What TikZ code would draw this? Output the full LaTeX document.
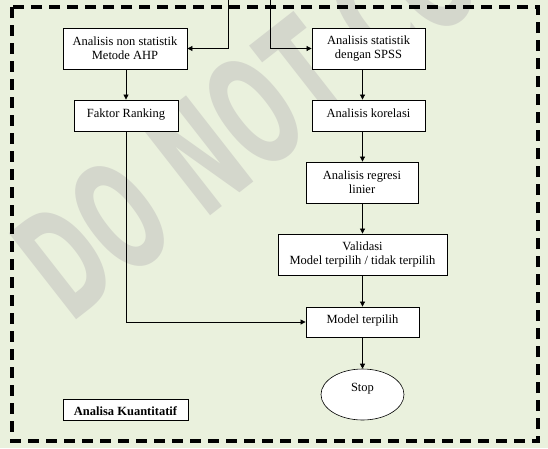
\documentclass[tikz,border=0pt]{standalone}
\usepackage{fontspec}
\setmainfont{Liberation Serif}
\newfontfamily\wmfont{DejaVu Sans}
\usetikzlibrary{arrows.meta,shapes.geometric}
\definecolor{bg}{RGB}{234,241,221}
\definecolor{wm}{RGB}{212,215,204}
\begin{document}
\begin{tikzpicture}[x=1pt,y=-1pt,
  txt/.style={font=\fontsize{12.5}{14.4}\selectfont},
  box/.style={draw, fill=white, line width=0.85pt, align=center, inner sep=0pt, txt},
  onebox/.style={box, inner xsep=0pt, inner ysep=4pt},
  arr/.style={-{Triangle[length=5pt,width=5pt]}, line width=0.8pt},
  frame/.style={line width=3.3pt, dash pattern=on 11pt off 7pt}
]
\useasboundingbox (0,0) rectangle (548,448);
\fill[bg] (0,0) rectangle (548,448);
% watermark
\begin{scope}
\clip (0,0) rectangle (548,448);
\node[rotate=38, anchor=base west, text=wm, inner sep=0pt,
      font=\wmfont\bfseries\fontsize{150}{150}\selectfont] (wmark) at (70,325) {\scalebox{0.56}[1]{DO NOT COPY}};
\end{scope}
% frame
\draw[frame] (12,7) rectangle (538,441);
% nodes
\node[box, minimum width=124pt, minimum height=41pt] (ahp) at (125,48.5) {Analisis non statistik\\Metode AHP};
\node[box, minimum width=113pt, minimum height=41pt] (spss) at (368.5,48.5) {Analisis statistik\\dengan SPSS};
\node[onebox, minimum width=104pt, text height=13pt, text depth=10pt] (faktor) at (126,115.5) {Faktor Ranking};
\node[onebox, minimum width=113pt, text height=13pt, text depth=10pt] (korelasi) at (368.5,115.5) {Analisis korelasi};
\node[box, minimum width=112pt, minimum height=41pt] (regresi) at (362,182.5) {Analisis regresi\\linier};
\node[box, minimum width=169pt, minimum height=41pt] (validasi) at (362.5,254.5) {Validasi\\Model terpilih / tidak terpilih};
\node[onebox, minimum width=113pt, text height=12.3pt, text depth=9.7pt] (model) at (362.5,322) {Model terpilih};
\node[draw, ellipse, fill=white, line width=0.6pt, minimum width=83pt, minimum height=51pt, inner sep=0pt,
      text height=9pt, text depth=14.6pt, txt] (stop) at (362.5,394.5) {Stop};
\node[draw, fill=white, line width=0.85pt, minimum width=125pt, inner xsep=0pt, inner ysep=1pt,
      text height=15.7pt, text depth=3.3pt, font=\fontsize{12.5}{14.4}\selectfont\bfseries] (kuan) at (125.5,409.5) {Analisa Kuantitatif};
% connectors
\coordinate (inL) at (228,0);
\coordinate (inR) at (270,0);
\coordinate (col) at (362.5,0);
\draw[arr] (inL) |- (ahp.east);
\draw[arr] (inR) |- (spss.west);
\draw[arr] (faktor.north |- ahp.south) -- (faktor.north);
\draw[arr] (spss.south -| col) -- (korelasi.north -| col);
\draw[arr] (korelasi.south -| col) -- (regresi.north -| col);
\draw[arr] (regresi.south -| col) -- (validasi.north -| col);
\draw[arr] (validasi.south -| col) -- (model.north -| col);
\draw[arr] (model.south -| col) -- (stop.north -| col);
\draw[arr] (faktor.south) |- (model.west);
\end{tikzpicture}
\end{document}
